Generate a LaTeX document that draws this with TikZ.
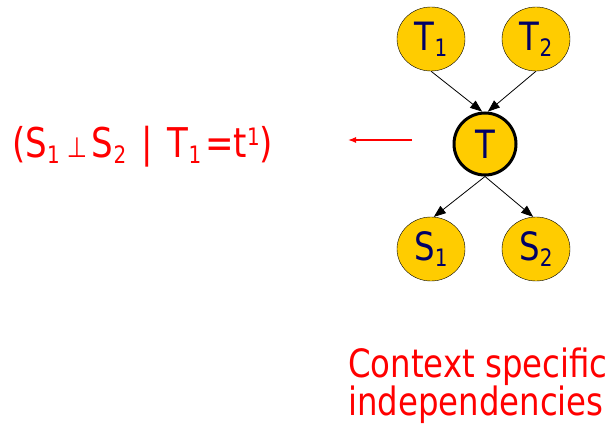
\documentclass[tikz,border=0pt]{standalone}
\usepackage{fontspec}
\setmainfont{DejaVu Sans}[FakeStretch=0.83]
\usetikzlibrary{arrows.meta,positioning,shapes.geometric}
\definecolor{nodegold}{RGB}{255,204,0}
\definecolor{nodenavy}{RGB}{0,0,102}
\definecolor{ctxred}{RGB}{255,0,0}
\newcommand{\lo}[1]{\raisebox{-6pt}{\fontsize{24}{24}\selectfont #1}}
\newcommand{\hi}[1]{\raisebox{12pt}{\fontsize{24}{24}\selectfont #1}}

\begin{document}
\begin{tikzpicture}[
        x=1pt, y=-1pt,
        bn/.style={ellipse, draw, fill=nodegold, text=nodenavy, inner sep=0pt, minimum width=68pt, minimum height=64pt, font=\fontsize{39}{39}\selectfont},
        obs/.style={circle, draw, line width=3pt, fill=nodegold, text=nodenavy, inner sep=0pt, minimum size=62pt, font=\fontsize{39}{39}\selectfont},
        arr/.style={-{Triangle[length=12pt, width=9pt]}, line width=0.8pt},
        redarr/.style={-{Latex[length=8pt, width=6pt]}, ctxred, line width=1.3pt},
        redtext/.style={text=ctxred, inner sep=0pt, font=\fontsize{39}{38}\selectfont}
      ]
        \useasboundingbox (0,0) rectangle (611,425);
        \node[obs] (t) at (485,144) {T};
        \node[bn] (t1) at (431,39) {T\lo{1}};
        \node[bn] (t2) at (536,39) {T\lo{2}};
        \node[bn] (s1) at (431,249) {S\lo{1}};
        \node[bn] (s2) at (536,249) {S\lo{2}};
        \draw[arr] (t1.south) -- (t.95);
        \draw[arr] (t2.south) -- (t.85);
        \draw[arr] (t.south) -- (s1.85);
        \draw[arr] (t.south) -- (s2.95);
        % context-specific statement
        \node[redtext, anchor=base west, font=\fontsize{41}{41}\selectfont] (csi) at (12,158) {(S\lo{1}\hspace{7pt}{\fontsize{28}{28}\selectfont ⊥}\hspace{5pt}S\lo{2}\hspace{15pt}|\hspace{15pt}T\lo{1}\hspace{4pt}=t\hi{1})};
        \coordinate (ra) at (412,140);
        \coordinate (rb) at (348,140);
        \draw[redarr] (ra) -- (rb);
        \node[redtext, anchor=base west, align=left] (ctx) at (348,415) {Context specific\\independencies};
      \end{tikzpicture}
\end{document}
